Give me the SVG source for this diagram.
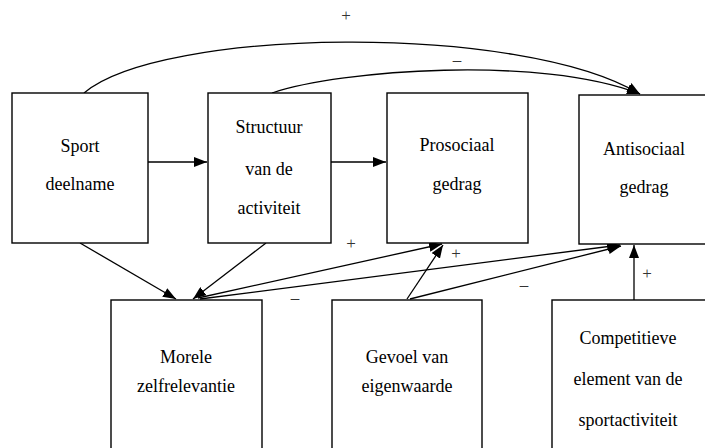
<svg xmlns="http://www.w3.org/2000/svg" width="705" height="448" viewBox="0 0 705 448">
<style>
.box{fill:#fff;stroke:#000;stroke-width:1.4}
.t{font-family:'Liberation Serif','Tinos','Times New Roman','DejaVu Serif','Noto Serif',serif;font-size:18px;fill:#000;text-anchor:middle}
.lbl{font-family:'Liberation Serif','Tinos','Times New Roman','DejaVu Serif',serif;font-size:17px;fill:#333;text-anchor:middle}
.c{fill:none;stroke:#000;stroke-width:1.3;marker-end:url(#ah)}
</style>
<defs>
<marker id="ah" markerUnits="userSpaceOnUse" markerWidth="13" markerHeight="10" viewBox="0 0 13 10" refX="13" refY="5" orient="auto">
<path d="M0,0 L13,5 L0,10 Z" fill="#000"/>
</marker>
</defs>
<rect width="705" height="448" fill="#fff"/>
<g id="connectors">
<path class="c" d="M84,93 C160,28 520,22 640,94"/>
<path class="c" d="M272,93 C340,70 540,55 640,94"/>
<path class="c" d="M148,162 L207,162"/>
<path class="c" d="M331,162 L386,162"/>
<path class="c" d="M80,243 L176,299"/>
<path class="c" d="M266,243 L193,299"/>
<path class="c" d="M198,298 L442,244"/>
<path class="c" d="M200,299 L620,245"/>
<path class="c" d="M407,299 L443,245"/>
<path class="c" d="M410,299 L621,246"/>
<path class="c" d="M634,300 L634,245"/>
</g>
<g id="labels">
<text class="lbl" font-family="Liberation Serif, serif" x="346" y="21">+</text>
<text class="lbl" font-family="Liberation Serif, serif" x="457" y="65">–</text>
<text class="lbl" font-family="Liberation Serif, serif" x="351" y="249">+</text>
<text class="lbl" font-family="Liberation Serif, serif" x="456" y="259">+</text>
<text class="lbl" font-family="Liberation Serif, serif" x="295" y="303">–</text>
<text class="lbl" font-family="Liberation Serif, serif" x="524" y="290">–</text>
<text class="lbl" font-family="Liberation Serif, serif" x="647" y="279">+</text>
</g>
<g id="sport">
<rect class="box" x="12" y="93" width="136" height="150"/>
<text class="t" font-family="Liberation Serif, serif" x="80" y="152">Sport</text>
<text class="t" font-family="Liberation Serif, serif" x="80" y="190">deelname</text>
</g>
<g id="structuur">
<rect class="box" x="208" y="93" width="123" height="150"/>
<text class="t" font-family="Liberation Serif, serif" x="269" y="133">Structuur</text>
<text class="t" font-family="Liberation Serif, serif" x="269" y="175">van de</text>
<text class="t" font-family="Liberation Serif, serif" x="269" y="214">activiteit</text>
</g>
<g id="prosociaal">
<rect class="box" x="387" y="93" width="141" height="150"/>
<text class="t" font-family="Liberation Serif, serif" x="457" y="151">Prosociaal</text>
<text class="t" font-family="Liberation Serif, serif" x="457" y="190">gedrag</text>
</g>
<g id="antisociaal">
<rect class="box" x="579" y="95" width="140" height="149"/>
<text class="t" font-family="Liberation Serif, serif" x="644" y="155">Antisociaal</text>
<text class="t" font-family="Liberation Serif, serif" x="644" y="193">gedrag</text>
</g>
<g id="morele">
<rect class="box" x="111" y="300" width="151" height="160"/>
<text class="t" font-family="Liberation Serif, serif" x="186" y="363">Morele</text>
<text class="t" font-family="Liberation Serif, serif" x="186" y="392">zelfrelevantie</text>
</g>
<g id="gevoel">
<rect class="box" x="332" y="300" width="150" height="160"/>
<text class="t" font-family="Liberation Serif, serif" x="407" y="363">Gevoel van</text>
<text class="t" font-family="Liberation Serif, serif" x="407" y="392">eigenwaarde</text>
</g>
<g id="competitieve">
<rect class="box" x="552" y="300" width="170" height="160"/>
<text class="t" font-family="Liberation Serif, serif" x="628" y="344">Competitieve</text>
<text class="t" font-family="Liberation Serif, serif" x="628" y="385">element van de</text>
<text class="t" font-family="Liberation Serif, serif" x="628" y="426">sportactiviteit</text>
</g>
</svg>
